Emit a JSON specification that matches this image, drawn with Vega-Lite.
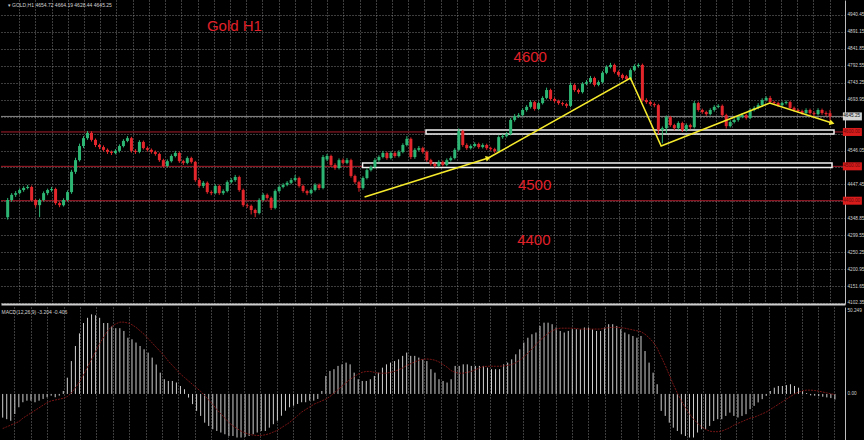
{
"$schema": "https://vega.github.io/schema/vega-lite/v6.json",
"background": "#000000",
"padding": 0,
"autosize": {"type": "pad"},
"spacing": 2,
"config": {"view": {"stroke": null}, "axis": {"labelFont": "Liberation Sans"}},
"datasets": {
"k": [
{"i":0,"o":4352,"h":4408,"l":4345,"c":4402,"m":-13.7,"s":-20},
{"i":1,"o":4402,"h":4422,"l":4397,"c":4417,"m":-14.6,"s":-19},
{"i":2,"o":4417,"h":4428,"l":4411,"c":4422,"m":-15.5,"s":-18},
{"i":3,"o":4422,"h":4436,"l":4418,"c":4431,"m":-11.6,"s":-17},
{"i":4,"o":4431,"h":4442,"l":4426,"c":4437,"m":-7.7,"s":-16},
{"i":5,"o":4437,"h":4446,"l":4433,"c":4440,"m":-4.8,"s":-14},
{"i":6,"o":4440,"h":4444,"l":4398,"c":4402,"m":-3.9,"s":-12.5},
{"i":7,"o":4402,"h":4405,"l":4380,"c":4387,"m":-3.9,"s":-11},
{"i":8,"o":4387,"h":4406,"l":4352,"c":4402,"m":-4.8,"s":-9.5},
{"i":9,"o":4402,"h":4427,"l":4398,"c":4422,"m":-3.9,"s":-8},
{"i":10,"o":4422,"h":4435,"l":4416,"c":4431,"m":-2.9,"s":-6.5},
{"i":11,"o":4431,"h":4440,"l":4426,"c":4434,"m":-1.9,"s":-5},
{"i":12,"o":4434,"h":4438,"l":4388,"c":4393,"m":-1.0,"s":-4},
{"i":13,"o":4393,"h":4397,"l":4381,"c":4387,"m":-1.9,"s":-3.5},
{"i":14,"o":4387,"h":4407,"l":4383,"c":4402,"m":-1.0,"s":-3},
{"i":15,"o":4402,"h":4430,"l":4398,"c":4425,"m":1.7,"s":-2.5},
{"i":16,"o":4425,"h":4490,"l":4420,"c":4484,"m":9.4,"s":-1.5},
{"i":17,"o":4484,"h":4525,"l":4478,"c":4518,"m":19,"s":0.5},
{"i":18,"o":4518,"h":4566,"l":4514,"c":4559,"m":27.7,"s":3.5},
{"i":19,"o":4559,"h":4588,"l":4553,"c":4582,"m":35,"s":7},
{"i":20,"o":4582,"h":4603,"l":4577,"c":4597,"m":41,"s":11},
{"i":21,"o":4597,"h":4602,"l":4572,"c":4577,"m":44,"s":15.5},
{"i":22,"o":4577,"h":4581,"l":4556,"c":4562,"m":46,"s":20},
{"i":23,"o":4562,"h":4566,"l":4550,"c":4556,"m":45.5,"s":24.5},
{"i":24,"o":4556,"h":4561,"l":4543,"c":4548,"m":44,"s":29},
{"i":25,"o":4548,"h":4552,"l":4536,"c":4542,"m":41,"s":33},
{"i":26,"o":4542,"h":4546,"l":4533,"c":4539,"m":41,"s":36.5},
{"i":27,"o":4539,"h":4550,"l":4535,"c":4545,"m":39,"s":39},
{"i":28,"o":4545,"h":4564,"l":4540,"c":4559,"m":38,"s":40.5},
{"i":29,"o":4559,"h":4579,"l":4555,"c":4574,"m":38,"s":41.5},
{"i":30,"o":4574,"h":4588,"l":4570,"c":4582,"m":36.4,"s":41.5},
{"i":31,"o":4582,"h":4586,"l":4540,"c":4545,"m":32.5,"s":41},
{"i":32,"o":4545,"h":4550,"l":4536,"c":4542,"m":31.6,"s":40},
{"i":33,"o":4542,"h":4576,"l":4538,"c":4571,"m":29.7,"s":38.5},
{"i":34,"o":4571,"h":4575,"l":4549,"c":4553,"m":27.7,"s":36.5},
{"i":35,"o":4553,"h":4558,"l":4543,"c":4548,"m":25.8,"s":34.5},
{"i":36,"o":4548,"h":4552,"l":4537,"c":4542,"m":23.9,"s":32},
{"i":37,"o":4542,"h":4546,"l":4531,"c":4536,"m":21,"s":29.5},
{"i":38,"o":4536,"h":4540,"l":4513,"c":4518,"m":17,"s":27},
{"i":39,"o":4518,"h":4522,"l":4496,"c":4501,"m":12.3,"s":24.5},
{"i":40,"o":4501,"h":4520,"l":4497,"c":4515,"m":8.5,"s":22},
{"i":41,"o":4515,"h":4535,"l":4511,"c":4530,"m":7.5,"s":19},
{"i":42,"o":4530,"h":4545,"l":4526,"c":4539,"m":7.5,"s":16.5},
{"i":43,"o":4539,"h":4543,"l":4510,"c":4515,"m":6.6,"s":14},
{"i":44,"o":4515,"h":4519,"l":4504,"c":4510,"m":4.6,"s":11.5},
{"i":45,"o":4510,"h":4529,"l":4506,"c":4524,"m":2.7,"s":9.5},
{"i":46,"o":4524,"h":4528,"l":4508,"c":4513,"m":-2.1,"s":7.5},
{"i":47,"o":4513,"h":4516,"l":4455,"c":4460,"m":-5.9,"s":5.5},
{"i":48,"o":4460,"h":4465,"l":4438,"c":4443,"m":-9.8,"s":3.5},
{"i":49,"o":4443,"h":4457,"l":4437,"c":4452,"m":-12.7,"s":1.5},
{"i":50,"o":4452,"h":4456,"l":4420,"c":4425,"m":-16.6,"s":-1},
{"i":51,"o":4425,"h":4430,"l":4416,"c":4422,"m":-18.5,"s":-3.5},
{"i":52,"o":4422,"h":4448,"l":4418,"c":4443,"m":-20.4,"s":-6},
{"i":53,"o":4443,"h":4447,"l":4417,"c":4422,"m":-21.4,"s":-9},
{"i":54,"o":4422,"h":4433,"l":4417,"c":4428,"m":-22.3,"s":-11.5},
{"i":55,"o":4428,"h":4459,"l":4424,"c":4454,"m":-23.3,"s":-14},
{"i":56,"o":4454,"h":4466,"l":4450,"c":4460,"m":-24.3,"s":-16.5},
{"i":57,"o":4460,"h":4475,"l":4455,"c":4469,"m":-24.3,"s":-18.5},
{"i":58,"o":4469,"h":4473,"l":4426,"c":4431,"m":-25.2,"s":-20},
{"i":59,"o":4431,"h":4435,"l":4382,"c":4387,"m":-25.2,"s":-21.5},
{"i":60,"o":4387,"h":4392,"l":4379,"c":4385,"m":-24.8,"s":-22.5},
{"i":61,"o":4385,"h":4389,"l":4360,"c":4373,"m":-24.3,"s":-23.3},
{"i":62,"o":4373,"h":4377,"l":4352,"c":4364,"m":-23.3,"s":-23.8},
{"i":63,"o":4364,"h":4407,"l":4360,"c":4402,"m":-22.3,"s":-24},
{"i":64,"o":4402,"h":4422,"l":4398,"c":4417,"m":-21.4,"s":-24},
{"i":65,"o":4417,"h":4421,"l":4403,"c":4408,"m":-21.4,"s":-23.6},
{"i":66,"o":4408,"h":4412,"l":4373,"c":4379,"m":-19.5,"s":-23},
{"i":67,"o":4379,"h":4433,"l":4375,"c":4428,"m":-17.5,"s":-22},
{"i":68,"o":4428,"h":4445,"l":4424,"c":4440,"m":-15.5,"s":-21},
{"i":69,"o":4440,"h":4451,"l":4436,"c":4446,"m":-12.6,"s":-19.5},
{"i":70,"o":4446,"h":4457,"l":4442,"c":4452,"m":-9.7,"s":-18},
{"i":71,"o":4452,"h":4466,"l":4448,"c":4460,"m":-7.7,"s":-16.5},
{"i":72,"o":4460,"h":4475,"l":4456,"c":4466,"m":-6.8,"s":-14.5},
{"i":73,"o":4466,"h":4470,"l":4438,"c":4443,"m":-5.8,"s":-12.5},
{"i":74,"o":4443,"h":4447,"l":4423,"c":4428,"m":-4.8,"s":-10.5},
{"i":75,"o":4428,"h":4432,"l":4416,"c":4422,"m":-4.8,"s":-9},
{"i":76,"o":4422,"h":4436,"l":4418,"c":4431,"m":-3.9,"s":-7.5},
{"i":77,"o":4431,"h":4451,"l":4427,"c":4446,"m":-3.9,"s":-6},
{"i":78,"o":4446,"h":4450,"l":4431,"c":4437,"m":-2.9,"s":-5},
{"i":79,"o":4437,"h":4533,"l":4433,"c":4527,"m":1.7,"s":-4},
{"i":80,"o":4520,"h":4536,"l":4515,"c":4530,"m":10.4,"s":-3},
{"i":81,"o":4530,"h":4534,"l":4499,"c":4504,"m":13.3,"s":-1.5},
{"i":82,"o":4504,"h":4509,"l":4490,"c":4495,"m":14.3,"s":0.5},
{"i":83,"o":4495,"h":4523,"l":4491,"c":4518,"m":16.2,"s":2.5},
{"i":84,"o":4518,"h":4523,"l":4505,"c":4510,"m":17.1,"s":4.5},
{"i":85,"o":4510,"h":4524,"l":4506,"c":4518,"m":18.1,"s":6.5},
{"i":86,"o":4518,"h":4522,"l":4467,"c":4472,"m":17.1,"s":8.5},
{"i":87,"o":4472,"h":4476,"l":4449,"c":4454,"m":12.3,"s":10},
{"i":88,"o":4454,"h":4458,"l":4426,"c":4437,"m":8.5,"s":11.5},
{"i":89,"o":4437,"h":4471,"l":4432,"c":4466,"m":7.5,"s":12.5},
{"i":90,"o":4466,"h":4494,"l":4462,"c":4489,"m":7.5,"s":13},
{"i":91,"o":4489,"h":4503,"l":4485,"c":4498,"m":8.5,"s":13},
{"i":92,"o":4498,"h":4524,"l":4494,"c":4518,"m":10.4,"s":12.5},
{"i":93,"o":4518,"h":4532,"l":4513,"c":4527,"m":12.3,"s":12},
{"i":94,"o":4527,"h":4545,"l":4523,"c":4539,"m":15.2,"s":12},
{"i":95,"o":4539,"h":4543,"l":4519,"c":4524,"m":17.1,"s":12},
{"i":96,"o":4524,"h":4544,"l":4520,"c":4539,"m":18.1,"s":12.5},
{"i":97,"o":4539,"h":4543,"l":4525,"c":4530,"m":19,"s":13},
{"i":98,"o":4530,"h":4547,"l":4526,"c":4542,"m":20,"s":14},
{"i":99,"o":4542,"h":4567,"l":4538,"c":4562,"m":22,"s":15},
{"i":100,"o":4562,"h":4588,"l":4558,"c":4580,"m":23.9,"s":16.5},
{"i":101,"o":4580,"h":4584,"l":4521,"c":4527,"m":22,"s":17.5},
{"i":102,"o":4527,"h":4553,"l":4522,"c":4548,"m":22,"s":18.5},
{"i":103,"o":4548,"h":4559,"l":4544,"c":4553,"m":21,"s":19.5},
{"i":104,"o":4553,"h":4557,"l":4537,"c":4542,"m":20,"s":20},
{"i":105,"o":4542,"h":4546,"l":4513,"c":4518,"m":19,"s":20.2},
{"i":106,"o":4518,"h":4522,"l":4502,"c":4507,"m":14.3,"s":20},
{"i":107,"o":4507,"h":4511,"l":4496,"c":4501,"m":12.3,"s":19.5},
{"i":108,"o":4501,"h":4518,"l":4497,"c":4513,"m":8.5,"s":18.5},
{"i":109,"o":4513,"h":4517,"l":4499,"c":4504,"m":7.5,"s":17},
{"i":110,"o":4504,"h":4523,"l":4500,"c":4518,"m":6.6,"s":15.5},
{"i":111,"o":4518,"h":4529,"l":4514,"c":4524,"m":8.5,"s":13.5},
{"i":112,"o":4524,"h":4553,"l":4520,"c":4548,"m":16.2,"s":12.5},
{"i":113,"o":4548,"h":4610,"l":4544,"c":4603,"m":16.2,"s":12},
{"i":114,"o":4603,"h":4606,"l":4557,"c":4562,"m":17.1,"s":12},
{"i":115,"o":4562,"h":4567,"l":4548,"c":4553,"m":17.1,"s":12.5},
{"i":116,"o":4553,"h":4564,"l":4549,"c":4559,"m":16.2,"s":13},
{"i":117,"o":4559,"h":4570,"l":4555,"c":4565,"m":16.2,"s":14},
{"i":118,"o":4565,"h":4569,"l":4551,"c":4556,"m":16.2,"s":15},
{"i":119,"o":4556,"h":4567,"l":4552,"c":4562,"m":16.2,"s":15.8},
{"i":120,"o":4562,"h":4566,"l":4548,"c":4553,"m":15.2,"s":16},
{"i":121,"o":4553,"h":4557,"l":4545,"c":4550,"m":14.3,"s":16},
{"i":122,"o":4550,"h":4554,"l":4539,"c":4544,"m":14.3,"s":16},
{"i":123,"o":4544,"h":4590,"l":4540,"c":4585,"m":14.3,"s":16},
{"i":124,"o":4585,"h":4594,"l":4580,"c":4588,"m":17.1,"s":16.2},
{"i":125,"o":4588,"h":4600,"l":4584,"c":4594,"m":18.1,"s":16.5},
{"i":126,"o":4594,"h":4641,"l":4590,"c":4635,"m":20,"s":17},
{"i":127,"o":4635,"h":4652,"l":4630,"c":4646,"m":22.9,"s":18},
{"i":128,"o":4646,"h":4655,"l":4641,"c":4649,"m":25.8,"s":19.5},
{"i":129,"o":4649,"h":4669,"l":4645,"c":4664,"m":29.7,"s":21.5},
{"i":130,"o":4664,"h":4678,"l":4659,"c":4673,"m":32.5,"s":23.5},
{"i":131,"o":4673,"h":4693,"l":4668,"c":4687,"m":34.5,"s":26},
{"i":132,"o":4687,"h":4691,"l":4662,"c":4667,"m":35.5,"s":28.5},
{"i":133,"o":4667,"h":4689,"l":4663,"c":4684,"m":39.3,"s":31},
{"i":134,"o":4684,"h":4704,"l":4680,"c":4699,"m":41.2,"s":33},
{"i":135,"o":4699,"h":4729,"l":4695,"c":4722,"m":41.2,"s":35},
{"i":136,"o":4722,"h":4726,"l":4691,"c":4696,"m":40.3,"s":36.5},
{"i":137,"o":4696,"h":4700,"l":4685,"c":4690,"m":38.4,"s":37.5},
{"i":138,"o":4690,"h":4694,"l":4679,"c":4684,"m":36.4,"s":38},
{"i":139,"o":4684,"h":4688,"l":4676,"c":4681,"m":35.5,"s":38},
{"i":140,"o":4681,"h":4685,"l":4670,"c":4676,"m":36.4,"s":38},
{"i":141,"o":4676,"h":4743,"l":4672,"c":4737,"m":37.4,"s":38},
{"i":142,"o":4737,"h":4741,"l":4717,"c":4722,"m":37.4,"s":37.8},
{"i":143,"o":4722,"h":4726,"l":4711,"c":4716,"m":37.4,"s":37.5},
{"i":144,"o":4716,"h":4745,"l":4712,"c":4740,"m":38.4,"s":37.5},
{"i":145,"o":4740,"h":4751,"l":4736,"c":4745,"m":38.4,"s":37.5},
{"i":146,"o":4745,"h":4763,"l":4741,"c":4757,"m":37.4,"s":37.5},
{"i":147,"o":4757,"h":4761,"l":4732,"c":4737,"m":36.4,"s":37.5},
{"i":148,"o":4737,"h":4750,"l":4733,"c":4745,"m":36.4,"s":37.5},
{"i":149,"o":4745,"h":4777,"l":4741,"c":4772,"m":38.4,"s":38},
{"i":150,"o":4772,"h":4794,"l":4768,"c":4789,"m":40.3,"s":38.3},
{"i":151,"o":4789,"h":4801,"l":4785,"c":4795,"m":40.3,"s":38.5},
{"i":152,"o":4795,"h":4799,"l":4770,"c":4775,"m":39.3,"s":38.5},
{"i":153,"o":4775,"h":4779,"l":4761,"c":4766,"m":37.4,"s":38.3},
{"i":154,"o":4766,"h":4770,"l":4752,"c":4757,"m":35.5,"s":38},
{"i":155,"o":4762,"h":4766,"l":4749,"c":4754,"m":34.5,"s":37.5},
{"i":156,"o":4754,"h":4785,"l":4750,"c":4780,"m":33.5,"s":37},
{"i":157,"o":4780,"h":4797,"l":4776,"c":4792,"m":32.5,"s":36.5},
{"i":158,"o":4792,"h":4800,"l":4787,"c":4795,"m":33.5,"s":36},
{"i":159,"o":4795,"h":4799,"l":4688,"c":4693,"m":24.8,"s":34.5},
{"i":160,"o":4693,"h":4698,"l":4682,"c":4687,"m":18.1,"s":32.5},
{"i":161,"o":4687,"h":4691,"l":4676,"c":4681,"m":12.3,"s":30},
{"i":162,"o":4681,"h":4686,"l":4672,"c":4678,"m":5.6,"s":26.5},
{"i":163,"o":4678,"h":4682,"l":4594,"c":4606,"m":-9.8,"s":21.5},
{"i":164,"o":4606,"h":4616,"l":4567,"c":4611,"m":-12.7,"s":16.5},
{"i":165,"o":4611,"h":4648,"l":4595,"c":4643,"m":-16.6,"s":11},
{"i":166,"o":4643,"h":4647,"l":4615,"c":4620,"m":-19.5,"s":5.5},
{"i":167,"o":4620,"h":4624,"l":4605,"c":4611,"m":-21.4,"s":0.5},
{"i":168,"o":4611,"h":4631,"l":4606,"c":4626,"m":-23.3,"s":-4},
{"i":169,"o":4626,"h":4630,"l":4600,"c":4606,"m":-24.3,"s":-8},
{"i":170,"o":4606,"h":4625,"l":4601,"c":4620,"m":-25.2,"s":-11.5},
{"i":171,"o":4620,"h":4624,"l":4608,"c":4614,"m":-25.2,"s":-14.5},
{"i":172,"o":4614,"h":4690,"l":4610,"c":4684,"m":-22.3,"s":-17},
{"i":173,"o":4684,"h":4688,"l":4659,"c":4664,"m":-20.4,"s":-19},
{"i":174,"o":4664,"h":4668,"l":4653,"c":4658,"m":-20.4,"s":-20.5},
{"i":175,"o":4658,"h":4662,"l":4647,"c":4652,"m":-18.5,"s":-21.5},
{"i":176,"o":4652,"h":4669,"l":4648,"c":4664,"m":-15.6,"s":-21.8},
{"i":177,"o":4664,"h":4678,"l":4659,"c":4673,"m":-14.6,"s":-21.8},
{"i":178,"o":4673,"h":4681,"l":4669,"c":4676,"m":-14.6,"s":-21.5},
{"i":179,"o":4676,"h":4680,"l":4644,"c":4649,"m":-12.7,"s":-20.5},
{"i":180,"o":4649,"h":4653,"l":4610,"c":4617,"m":-10.8,"s":-19.5},
{"i":181,"o":4617,"h":4634,"l":4613,"c":4629,"m":-12.7,"s":-18},
{"i":182,"o":4629,"h":4640,"l":4625,"c":4635,"m":-13.6,"s":-17},
{"i":183,"o":4635,"h":4649,"l":4630,"c":4644,"m":-12.7,"s":-16},
{"i":184,"o":4644,"h":4655,"l":4640,"c":4649,"m":-11.7,"s":-15},
{"i":185,"o":4649,"h":4653,"l":4636,"c":4641,"m":-8.8,"s":-14},
{"i":186,"o":4641,"h":4669,"l":4637,"c":4664,"m":-6.9,"s":-13.5},
{"i":187,"o":4664,"h":4675,"l":4660,"c":4670,"m":-4.9,"s":-12.5},
{"i":188,"o":4670,"h":4684,"l":4666,"c":4678,"m":-3.0,"s":-11.5},
{"i":189,"o":4678,"h":4698,"l":4674,"c":4693,"m":-1.1,"s":-10.5},
{"i":190,"o":4693,"h":4704,"l":4689,"c":4699,"m":1.7,"s":-9},
{"i":191,"o":4699,"h":4705,"l":4682,"c":4687,"m":3.6,"s":-7.5},
{"i":192,"o":4687,"h":4691,"l":4679,"c":4684,"m":4.6,"s":-6},
{"i":193,"o":4684,"h":4688,"l":4673,"c":4678,"m":4.6,"s":-4.5},
{"i":194,"o":4678,"h":4689,"l":4674,"c":4684,"m":5.1,"s":-3},
{"i":195,"o":4684,"h":4692,"l":4680,"c":4687,"m":5.6,"s":-1.5},
{"i":196,"o":4687,"h":4691,"l":4665,"c":4670,"m":4.6,"s":0},
{"i":197,"o":4670,"h":4674,"l":4659,"c":4664,"m":3.6,"s":1},
{"i":198,"o":4664,"h":4668,"l":4656,"c":4661,"m":1.7,"s":1.8},
{"i":199,"o":4661,"h":4665,"l":4650,"c":4655,"m":0.5,"s":2.2},
{"i":200,"o":4655,"h":4669,"l":4651,"c":4664,"m":-0.8,"s":2.2},
{"i":201,"o":4664,"h":4668,"l":4650,"c":4655,"m":-1.0,"s":2},
{"i":202,"o":4655,"h":4660,"l":4647,"c":4652,"m":-1.3,"s":1.6},
{"i":203,"o":4652,"h":4669,"l":4648,"c":4664,"m":-1.6,"s":1.1},
{"i":204,"o":4664,"h":4668,"l":4650,"c":4655,"m":-2.0,"s":0.6},
{"i":205,"o":4655,"h":4660,"l":4646,"c":4652,"m":-2.4,"s":0.1},
{"i":206,"o":4654.72,"h":4664.19,"l":4628.44,"c":4645.25,"m":-3.2,"s":-0.4}
],
"lv": [{"p":4600},{"p":4500},{"p":4400}],
"yl": [{"k":1,"i":89.4,"p":4410.7},{"k":2,"i":120.4,"p":4524.2},{"k":3,"i":156.0,"p":4757},{"k":4,"i":163.7,"p":4559.1},{"k":5,"i":190.9,"p":4684.3},{"k":6,"i":206.5,"p":4626.1}],
"bx": [{"i1":104.8,"i2":207.0,"p1":4594.2,"p2":4605.8},{"i1":88.9,"i2":206.5,"p1":4496.7,"p2":4509.8}],
"sl": [{"p":4645.25,"t":"4645.25","kind":"cur"},{"p":4600,"t":"4600.00","kind":"lvl"},{"p":4500,"t":"4500.00","kind":"lvl"},{"p":4400,"t":"4400.00","kind":"lvl"}],
"ann": [{"i":56.8,"p":4908.3,"t":"Gold H1"},{"i":130.9,"p":4816.7,"t":"4600"},{"i":132.0,"p":4445.7,"t":"4500"},{"i":131.8,"p":4285.6,"t":"4400"}]
},
"vconcat": [
{
"width": 844,
"height": 304,
"layer": [
{
"data": {"name": "lv"},
"mark": {"type": "rule", "color": "#a81c2a", "strokeWidth": 1},
"encoding": {
"y": {"field": "p", "type": "quantitative", "scale": {"domain": [4099.4, 4984], "nice": false, "zero": false},
"axis": {"orient": "right", "values": [4940.45,4891.15,4841.85,4792.55,4743.25,4693.95,4644.65,4595.35,4546.05,4496.75,4447.45,4398.15,4348.85,4299.55,4250.25,4200.95,4151.65,4102.35], "tickCount": 40, "labelExpr": "indexof([4644.65,4595.35,4496.75,4398.15], datum.value) >= 0 ? '' : format(datum.value, '.2f')", "labelFontSize": 4.7, "labelColor": "#d0d0d0", "labelPadding": 2, "labelOverlap": false, "labelBound": false, "ticks": false, "grid": true, "gridColor": "#9a9a9a", "gridDash": [1, 2], "gridOpacity": 0.8, "domainColor": "#bdbdbd", "domainWidth": 1, "title": null}}
}
},
{
"data": {"values": [{"p": 4645.25}]},
"mark": {"type": "rule", "color": "#8a8a8a", "strokeWidth": 1},
"encoding": {"y": {"field": "p", "type": "quantitative", "scale": {"domain": [4099.4, 4984], "nice": false, "zero": false}}}
},
{
"data": {"name": "bx"},
"mark": {"type": "rect", "fill": "#000000", "stroke": "#f2f2f2", "strokeWidth": 1.5},
"encoding": {
"x": {"field": "i1", "type": "quantitative", "scale": {"domain": [-0.42, 208.5], "nice": false, "zero": false},
"axis": {"orient": "bottom", "values": [2.9,6.96,11.02,15.08,19.14,23.2,27.26,31.32,35.38,39.44,43.5,47.56,51.62,55.68,59.74,63.8,67.86,71.92,75.98,80.04,84.1,88.16,92.22,96.28,100.34,104.4,108.46,112.52,116.58,120.64,124.7,128.76,132.82,136.88,140.94,145,149.06,153.12,157.18,161.24,165.3,169.36,173.42,177.48,181.54,185.6,189.66,193.72,197.78,201.84,205.9], "tickCount": 100, "labels": false, "ticks": false, "grid": true, "gridColor": "#9a9a9a", "gridDash": [1, 2], "gridOpacity": 0.8, "domain": true, "domainColor": "#cfcfcf", "domainWidth": 2, "title": null}},
"x2": {"field": "i2"},
"y": {"field": "p1", "type": "quantitative", "scale": {"domain": [4099.4, 4984], "nice": false, "zero": false}},
"y2": {"field": "p2"}
}
},
{
"data": {"name": "k"},
"mark": {"type": "rule", "strokeWidth": 1},
"encoding": {
"x": {"field": "i", "type": "quantitative", "scale": {"domain": [-0.42, 208.5], "nice": false, "zero": false}},
"y": {"field": "l", "type": "quantitative", "scale": {"domain": [4099.4, 4984], "nice": false, "zero": false}},
"y2": {"field": "h"},
"color": {"condition": {"test": "datum.c >= datum.o", "value": "#2db673"}, "value": "#e3262b"}
}
},
{
"data": {"name": "k"},
"mark": {"type": "bar", "width": 3},
"encoding": {
"x": {"field": "i", "type": "quantitative", "scale": {"domain": [-0.42, 208.5], "nice": false, "zero": false}},
"y": {"field": "o", "type": "quantitative", "scale": {"domain": [4099.4, 4984], "nice": false, "zero": false}},
"y2": {"field": "c"},
"color": {"condition": {"test": "datum.c >= datum.o", "value": "#2db673"}, "value": "#e3262b"}
}
},
{
"data": {"name": "yl"},
"mark": {"type": "line", "color": "#f6ea2c", "strokeWidth": 1.6},
"encoding": {
"x": {"field": "i", "type": "quantitative", "scale": {"domain": [-0.42, 208.5], "nice": false, "zero": false}},
"y": {"field": "p", "type": "quantitative", "scale": {"domain": [4099.4, 4984], "nice": false, "zero": false}},
"order": {"field": "k"}
}
},
{
"data": {"values": [{"i": 120.4, "p": 4524.2}]},
"mark": {"type": "point", "shape": "triangle-right", "filled": true, "color": "#f6ea2c", "size": 35, "angle": 343, "opacity": 1},
"encoding": {
"x": {"field": "i", "type": "quantitative", "scale": {"domain": [-0.42, 208.5], "nice": false, "zero": false}},
"y": {"field": "p", "type": "quantitative", "scale": {"domain": [4099.4, 4984], "nice": false, "zero": false}}
}
},
{
"data": {"values": [{"i": 206.5, "p": 4626.1}]},
"mark": {"type": "point", "shape": "triangle-right", "filled": true, "color": "#f6ea2c", "size": 35, "angle": 18, "opacity": 1},
"encoding": {
"x": {"field": "i", "type": "quantitative", "scale": {"domain": [-0.42, 208.5], "nice": false, "zero": false}},
"y": {"field": "p", "type": "quantitative", "scale": {"domain": [4099.4, 4984], "nice": false, "zero": false}}
}
},
{
"data": {"name": "ann"},
"mark": {"type": "text", "font": "Liberation Sans", "fontSize": 15, "color": "#e0202a", "align": "center", "baseline": "middle"},
"encoding": {
"x": {"field": "i", "type": "quantitative", "scale": {"domain": [-0.42, 208.5], "nice": false, "zero": false}},
"y": {"field": "p", "type": "quantitative", "scale": {"domain": [4099.4, 4984], "nice": false, "zero": false}},
"text": {"field": "t"}
}
},
{
"data": {"name": "sl"},
"mark": {"type": "tick", "orient": "horizontal", "size": 19, "thickness": 8, "opacity": 1},
"encoding": {
"x": {"datum": 211.6, "type": "quantitative", "scale": {"domain": [-0.42, 208.5], "nice": false, "zero": false}},
"y": {"field": "p", "type": "quantitative", "scale": {"domain": [4099.4, 4984], "nice": false, "zero": false}},
"color": {"condition": {"test": "datum.kind === 'cur'", "value": "#d4d4d4"}, "value": "#d81c1c"}
}
},
{
"data": {"name": "sl"},
"mark": {"type": "text", "font": "Liberation Sans", "fontSize": 4.7, "align": "left", "baseline": "middle"},
"encoding": {
"x": {"datum": 209.3, "type": "quantitative", "scale": {"domain": [-0.42, 208.5], "nice": false, "zero": false}},
"y": {"field": "p", "type": "quantitative", "scale": {"domain": [4099.4, 4984], "nice": false, "zero": false}},
"text": {"field": "t"},
"color": {"condition": {"test": "datum.kind === 'cur'", "value": "#111111"}, "value": "#6a0a0a"}
}
},
{
"data": {"values": [{"i": 0, "p": 4968, "t": "▾ GOLD,H1  4654.72 4664.19 4628.44 4645.25"}]},
"mark": {"type": "text", "font": "Liberation Sans", "fontSize": 5, "color": "#d0d0d0", "align": "left", "baseline": "middle"},
"encoding": {
"x": {"field": "i", "type": "quantitative", "scale": {"domain": [-0.42, 208.5], "nice": false, "zero": false}},
"y": {"field": "p", "type": "quantitative", "scale": {"domain": [4099.4, 4984], "nice": false, "zero": false}},
"text": {"field": "t"}
}
}
]
},
{
"width": 844,
"height": 134,
"layer": [
{
"data": {"name": "k"},
"mark": {"type": "rule", "color": "#cfcfcf", "strokeWidth": 1},
"encoding": {
"x": {"field": "i", "type": "quantitative", "scale": {"domain": [-0.42, 208.5], "nice": false, "zero": false},
"axis": {"orient": "bottom", "values": [2.9,6.96,11.02,15.08,19.14,23.2,27.26,31.32,35.38,39.44,43.5,47.56,51.62,55.68,59.74,63.8,67.86,71.92,75.98,80.04,84.1,88.16,92.22,96.28,100.34,104.4,108.46,112.52,116.58,120.64,124.7,128.76,132.82,136.88,140.94,145,149.06,153.12,157.18,161.24,165.3,169.36,173.42,177.48,181.54,185.6,189.66,193.72,197.78,201.84,205.9], "tickCount": 100, "labels": false, "ticks": false, "grid": true, "gridColor": "#9a9a9a", "gridDash": [1, 2], "gridOpacity": 0.8, "domain": false, "title": null}},
"y": {"field": "m", "type": "quantitative", "scale": {"domain": [-27.2, 50.249], "nice": false, "zero": false},
"axis": {"orient": "right", "values": [50.249, 0], "labelExpr": "datum.value > 1 ? '50.249' : '0.00'", "labelFlush": true, "labelFontSize": 4.7, "labelColor": "#d0d0d0", "labelPadding": 2, "labelOverlap": false, "ticks": false, "grid": false, "domainColor": "#bdbdbd", "domainWidth": 1, "title": null}},
"y2": {"datum": 0}
}
},
{
"data": {"name": "k"},
"mark": {"type": "line", "color": "#7a1616", "strokeWidth": 1, "strokeDash": [2, 1]},
"encoding": {
"x": {"field": "i", "type": "quantitative", "scale": {"domain": [-0.42, 208.5], "nice": false, "zero": false}},
"y": {"field": "s", "type": "quantitative", "scale": {"domain": [-27.2, 50.249], "nice": false, "zero": false}}
}
},
{
"data": {"values": [{"i": -0.3, "v": 47.5, "t": "MACD(12,26,9) -3.204 -0.406"}]},
"mark": {"type": "text", "font": "Liberation Sans", "fontSize": 5, "color": "#d0d0d0", "align": "left", "baseline": "middle"},
"encoding": {
"x": {"field": "i", "type": "quantitative", "scale": {"domain": [-0.42, 208.5], "nice": false, "zero": false}},
"y": {"field": "v", "type": "quantitative", "scale": {"domain": [-27.2, 50.249], "nice": false, "zero": false}},
"text": {"field": "t"}
}
}
]
}
]
}
